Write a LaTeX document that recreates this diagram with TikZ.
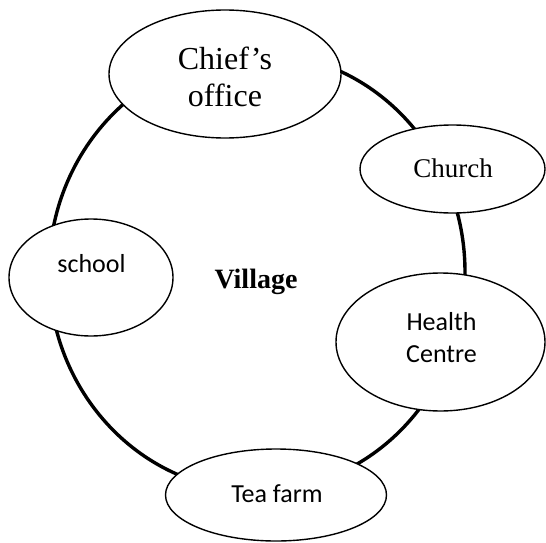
\documentclass[tikz,border=0pt]{standalone}
\usepackage{fontspec}
\setmainfont{Liberation Serif}
\newfontfamily\calib{Carlito}
\usetikzlibrary{shapes.geometric}
\tikzset{
  ring/.style={draw, ellipse, line width=3.4pt, inner sep=0pt},
  place/.style={draw, ellipse, fill=white, line width=1.4pt, inner sep=0pt},
  serifbig/.style={font=\fontsize{32}{36}\selectfont, anchor=base, inner sep=0pt},
  serifmid/.style={font=\fontsize{27}{32}\selectfont, anchor=base, inner sep=0pt},
  sanslab/.style={font=\calib\fontsize{26}{32}\selectfont, anchor=base, inner sep=0pt},
  boldlab/.style={font=\bfseries\fontsize{28}{32}\selectfont, anchor=base, inner sep=0pt}
}
\begin{document}
\begin{tikzpicture}[x=1pt,y=-1pt]
\useasboundingbox (0,0) rectangle (546,543);
\node[ring, minimum width=416pt, minimum height=438pt] (ring) at (257,272) {};
\node[boldlab] (village) at (256,288) {Village};

\node[place, minimum width=232pt, minimum height=128pt] (chief) at (225,74) {};
\node[serifbig] (chiefA) at (225,70) {Chief’s};
\node[serifbig] (chiefB) at (225,106) {office};

\node[place, minimum width=185pt, minimum height=88pt] (church) at (452.5,169) {};
\node[serifmid] (churchT) at (453,177) {Church};

\node[place, minimum width=164pt, minimum height=117pt] (school) at (91,277.5) {};
\node[sanslab] (schoolT) at (91.5,272) {school};

\node[place, minimum width=209pt, minimum height=138pt] (health) at (440.5,342) {};
\node[sanslab] (healthA) at (441.5,330) {Health};
\node[sanslab] (healthB) at (441.5,362) {Centre};

\node[place, minimum width=221pt, minimum height=92pt] (tea) at (276,495) {};
\node[sanslab] (teaT) at (277,502.5) {Tea farm};
\end{tikzpicture}
\end{document}
